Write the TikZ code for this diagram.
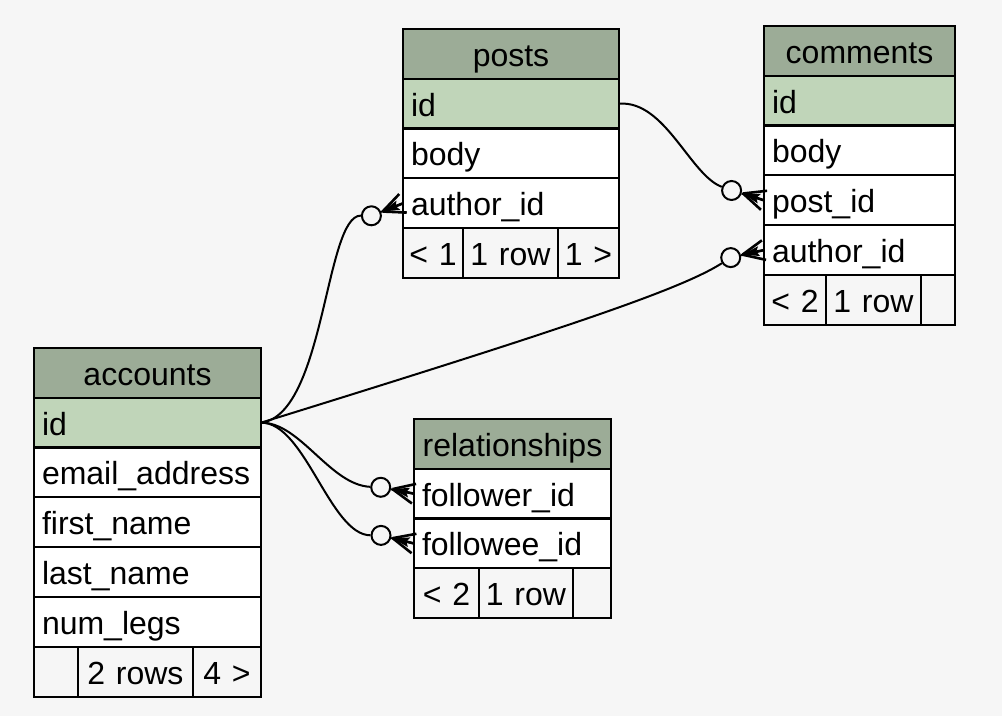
\documentclass[tikz,border=0pt]{standalone}
\usepackage{fontspec}
\setmainfont{Liberation Sans}
\usepackage{xcolor}
\usepackage{tikz}
\usetikzlibrary{positioning}

\definecolor{pagebg}{RGB}{246,246,246}
\definecolor{hdrgreen}{RGB}{156,172,151}
\definecolor{keygreen}{RGB}{192,213,185}

\tikzset{
  cell/.style={draw, line width=1.1pt, outer sep=0pt, inner xsep=4pt, inner ysep=0pt,
    minimum height=24.9pt, text height=14.5pt, text depth=2pt, font=\fontsize{16}{19}\selectfont},
  tname/.style={cell, fill=hdrgreen, align=center},
  keyrow/.style={cell, fill=keygreen, align=left},
  fieldrow/.style={cell, fill=white, align=left},
  pager/.style={cell, fill=pagebg, align=center, inner xsep=0pt},
  odot/.style={circle, draw, fill=pagebg, line width=1pt, minimum size=9.5pt, inner sep=0pt},
  rel/.style={line width=1pt},
  crow/.pic={
    \fill (-22,0) -- (-5,-5) -- (-8,0) -- (-5,5) -- cycle;
    \draw[line width=1.3pt] (-22,0) -- (0,-10) (-22,0) -- (0,10) (-22,0) -- (0,0);
  }
}

\begin{document}
\begin{tikzpicture}[x=0.5pt, y=-0.5pt]
\fill[pagebg] (0,0) rectangle (1002,716);
\useasboundingbox (0,0) rectangle (1002,716);

% posts
\begin{scope}[every node/.append style={text width=100pt}]
\node[tname, anchor=north west] (posts) at (403,29) {posts};
\node[keyrow, below=0pt of posts] (posts-id) {id};
\node[fieldrow, below=0pt of posts-id] (posts-body) {body};
\node[fieldrow, below=0pt of posts-body] (posts-author) {author\_id};
\node[pager, text width=30pt, anchor=north west] (posts-prev) at (posts-author.south west) {< 1};
\node[pager, text width=47.5pt, right=0pt of posts-prev] (posts-count) {1 row};
\node[pager, text width=30.5pt, right=0pt of posts-count] (posts-next) {1 >};
\end{scope}

% comments
\begin{scope}[every node/.append style={text width=87.5pt}]
\node[tname, anchor=north west] (comments) at (764,26) {comments};
\node[keyrow, below=0pt of comments] (comments-id) {id};
\node[fieldrow, below=0pt of comments-id] (comments-body) {body};
\node[fieldrow, below=0pt of comments-body] (comments-post) {post\_id};
\node[fieldrow, below=0pt of comments-post] (comments-author) {author\_id};
\node[pager, text width=31pt, anchor=north west] (comments-prev) at (comments-author.south west) {< 2};
\node[pager, text width=47.5pt, right=0pt of comments-prev] (comments-count) {1 row};
\node[pager, text width=17pt, right=0pt of comments-count] (comments-next) {};
\end{scope}

% accounts
\begin{scope}[every node/.append style={text width=105.5pt}]
\node[tname, anchor=north west] (accounts) at (34,348) {accounts};
\node[keyrow, below=0pt of accounts] (accounts-id) {id};
\node[fieldrow, below=0pt of accounts-id] (accounts-email) {email\_address};
\node[fieldrow, below=0pt of accounts-email] (accounts-first) {first\_name};
\node[fieldrow, below=0pt of accounts-first] (accounts-last) {last\_name};
\node[fieldrow, below=0pt of accounts-last] (accounts-legs) {num\_legs};
\node[pager, text width=22pt, anchor=north west] (accounts-prev) at (accounts-legs.south west) {};
\node[pager, text width=57.5pt, right=0pt of accounts-prev] (accounts-count) {2 rows};
\node[pager, text width=34pt, right=0pt of accounts-count] (accounts-next) {4 >};
\end{scope}

% relationships
\begin{scope}[every node/.append style={text width=90.5pt}]
\node[tname, anchor=north west] (relationships) at (414,419) {relationships};
\node[fieldrow, below=0pt of relationships] (rel-follower) {follower\_id};
\node[fieldrow, below=0pt of rel-follower] (rel-followee) {followee\_id};
\node[pager, text width=32.5pt, anchor=north west] (rel-prev) at (rel-followee.south west) {< 2};
\node[pager, text width=47pt, right=0pt of rel-prev] (rel-count) {1 row};
\node[pager, text width=19pt, right=0pt of rel-count] (rel-next) {};
\end{scope}

% optional-many ends
\node[odot] (c-post) at (731.6,190.5) {};
\node[odot] (c-author) at (371.4,215.8) {};
\node[odot] (c-cauthor) at (730.7,257.6) {};
\node[odot] (c-follower) at (380.7,487.3) {};
\node[odot] (c-followee) at (381,535.4) {};

\draw[rel] (posts-id.east) .. controls (665,100) and (690,175) .. (c-post);
\draw[rel] (c-post) -- (comments-post.west);
\pic[rotate=-18] at (comments-post.west) {crow};

\draw[rel] (accounts-id.east) .. controls (325,415) and (325,215) .. (c-author);
\draw[rel] (c-author) -- (posts-author.west);
\pic[rotate=22] at (posts-author.west) {crow};

\draw[rel] (accounts-id.east) .. controls (560,330) and (680,290) .. (c-cauthor);
\draw[rel] (c-cauthor) -- (comments-author.west);
\pic[rotate=12] at (comments-author.west) {crow};

\draw[rel] (accounts-id.east) .. controls (300,422) and (330,485) .. (c-follower);
\draw[rel] (c-follower) -- (rel-follower.west);
\pic[rotate=-12] at (rel-follower.west) {crow};

\draw[rel] (accounts-id.east) .. controls (305,422) and (330,535) .. (c-followee);
\draw[rel] (c-followee) -- (rel-followee.west);
\pic[rotate=-14] at (rel-followee.west) {crow};
\end{tikzpicture}
\end{document}
